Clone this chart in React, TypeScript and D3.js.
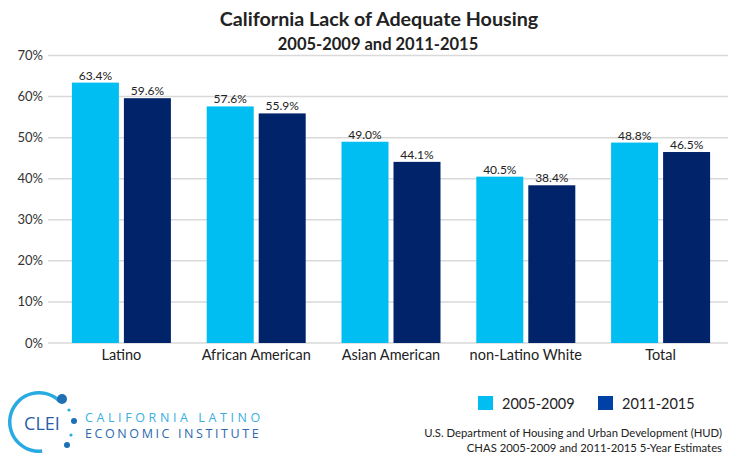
import React from "react";
import * as d3 from "d3";

const categories = ["Latino", "African American", "Asian American", "non-Latino White", "Total"];
const series2005 = [63.4, 57.6, 49.0, 40.5, 48.8];
const series2011 = [59.6, 55.9, 44.1, 38.4, 46.5];
const seriesNames = ["2005-2009", "2011-2015"];
const yTicks = [0, 10, 20, 30, 40, 50, 60, 70];

const W = 731;
const H = 455;
const LIGHT = "#00BEF2";
const DARK = "#002369";
const FONT = "Lato, 'Open Sans', sans-serif";

export default function App() {
  const x = d3.scaleBand<string>().domain(categories).range([54, 728]);
  const y = d3.scaleLinear().domain([0, 70]).range([343, 55.5]);
  const barW = 47;
  const gap = 5;
  const arcPath = d3.arc()({ innerRadius: 27.5, outerRadius: 31, startAngle: -3.25, endAngle: 0.75 }) as string;

  return (
    <svg width={W} height={H} style={{ position: "absolute", left: 0, top: 0, background: "#fff" }}>
      <text x={379} y={26} textAnchor="middle" fontFamily={FONT} fontWeight="bold" fontSize={19.7} fill="#222">
        California Lack of Adequate Housing
      </text>
      <text x={378} y={49.5} textAnchor="middle" fontFamily={FONT} fontWeight="bold" fontSize={16.5} fill="#222">
        2005-2009 and 2011-2015
      </text>

      {yTicks.map((t) => (
        <g key={t}>
          <line x1={48} x2={728} y1={y(t)} y2={y(t)} stroke="#d9d9d9" strokeWidth={1.5} />
          <text x={43} y={y(t) + 4.5} textAnchor="end" fontFamily={FONT} fontSize={13} fill="#333">
            {t}%
          </text>
        </g>
      ))}

      {categories.map((c, i) => {
        const cx = (x(c) as number) + x.bandwidth() / 2;
        const x1 = cx - gap / 2 - barW;
        const x2 = cx + gap / 2;
        const v1 = series2005[i];
        const v2 = series2011[i];
        return (
          <g key={c}>
            <rect x={x1} y={y(v1)} width={barW} height={y(0) - y(v1)} fill={LIGHT} />
            <rect x={x2} y={y(v2)} width={barW} height={y(0) - y(v2)} fill={DARK} />
            <text x={x1 + barW / 2} y={y(v1) - 3} textAnchor="middle" fontFamily={FONT} fontSize={12} fill="#222">
              {v1.toFixed(1)}%
            </text>
            <text x={x2 + barW / 2} y={y(v2) - 3} textAnchor="middle" fontFamily={FONT} fontSize={12} fill="#222">
              {v2.toFixed(1)}%
            </text>
            <text x={cx} y={360} textAnchor="middle" fontFamily={FONT} fontSize={14.5} fill="#222">
              {c}
            </text>
          </g>
        );
      })}

      {/* legend */}
      <rect x={478} y={396} width={15} height={14} fill={LIGHT} />
      <text x={502} y={408.5} fontFamily={FONT} fontSize={14.5} fill="#222">{seriesNames[0]}</text>
      <rect x={598} y={396} width={15} height={14} fill="#0041A8" />
      <text x={622} y={408.5} fontFamily={FONT} fontSize={14.5} fill="#222">{seriesNames[1]}</text>

      {/* source */}
      <text x={722} y={437} textAnchor="end" fontFamily={FONT} fontSize={11.3} fill="#222">
        U.S. Department of Housing and Urban Development (HUD)
      </text>
      <text x={722} y={452} textAnchor="end" fontFamily={FONT} fontSize={11.3} fill="#222">
        CHAS 2005-2009 and 2011-2015 5-Year Estimates
      </text>

      {/* logo */}
      <g>
        <path d={arcPath} transform="translate(39,422)" fill="#29ABE2" />
        <circle cx={62} cy={399} r={5} fill="#1F6FB5" />
        <circle cx={69} cy={410} r={1.6} fill="#29ABE2" />
        <circle cx={74} cy={421} r={3} fill="#1F6FB5" />
        <circle cx={71} cy={435} r={1.6} fill="#29ABE2" />
        <circle cx={67} cy={445} r={3} fill="#1F6FB5" />
        <text x={42} y={430} textAnchor="middle" fontFamily="'Open Sans', sans-serif" fontSize={18} fill="#2A5DA8">
          CLEI
        </text>
        <text x={85} y={421.5} fontFamily="'Open Sans', sans-serif" fontSize={12.5} letterSpacing={3.6} fill="#3AAEE0">
          CALIFORNIA LATINO
        </text>
        <text x={85} y={438} fontFamily="'Open Sans', sans-serif" fontSize={12.5} letterSpacing={2.6} fill="#2D68B0">
          ECONOMIC INSTITUTE
        </text>
      </g>
    </svg>
  );
}
